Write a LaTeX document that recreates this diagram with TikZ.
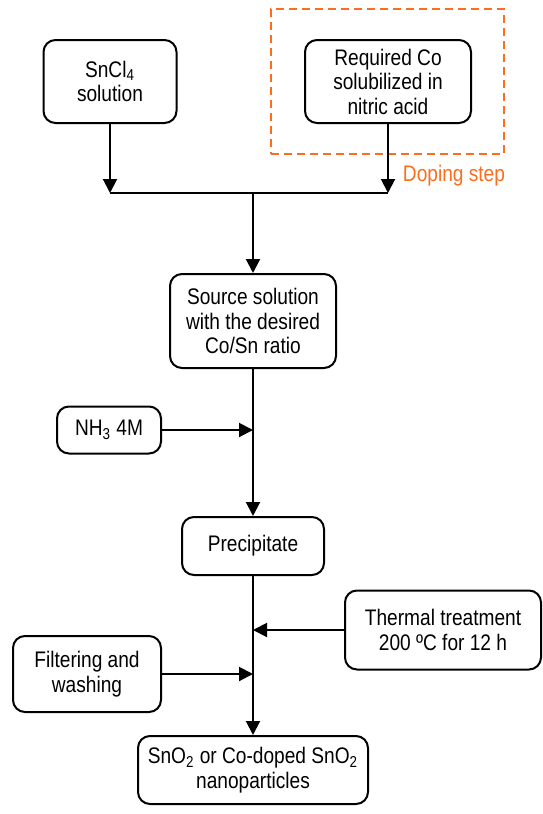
\documentclass[tikz,border=0pt]{standalone}
\usepackage{fontspec}
\setmainfont{Liberation Sans}[FakeStretch=0.85]
\usepackage{tikz}
\usetikzlibrary{arrows.meta}
\definecolor{dopeorange}{RGB}{250,110,30}

\begin{document}
\begin{tikzpicture}[
		x=0.5pt, y=-0.5pt,
		every node/.style={rectangle, draw, rounded corners=6pt, line width=1pt,
			align=center, inner sep=0pt,
			font=\fontsize{11.25}{12.25}\selectfont},
		arr/.style={line width=1pt, -{Triangle[width=7pt, length=7pt]}},
		flow/.style={line width=1pt}
	]
  \useasboundingbox (0,0) rectangle (542,814);
  % dashed frame round the doping step
  \node (dope_box) [draw=dopeorange, dash pattern=on 4pt off 2.5pt, rounded corners=0pt,
    minimum width=116.5pt, minimum height=72.5pt] at (387.5, 81.5) {};
  \node (dope_label) [draw=none, text=dopeorange] at (454, 176) {Doping step};
  \node (sncl) [minimum width=66.5pt, minimum height=41.5pt] at (110, 81.5) {SnCl\textsubscript{4}\\solution};
  \node (co_sol) [minimum width=83pt, minimum height=41.5pt] at (388, 81.5) {Required Co\\solubilized in\\nitric acid};
  \node (source) [minimum width=83pt, minimum height=47pt] at (253, 321) {Source solution\\with the desired\\Co/Sn ratio};
  \node (nh3) [minimum width=52pt, minimum height=23.5pt] at (109, 430) {NH\textsubscript{3} 4M};
  \node (precip) [minimum width=71pt, minimum height=29pt] at (253, 546) {Precipitate};
  \node (thermal) [minimum width=98pt, minimum height=39.5pt] at (443, 630) {Thermal treatment\\200 ºC for 12 h};
  \node (filter) [minimum width=74pt, minimum height=38pt] at (87, 674) {Filtering and\\washing};
  \node (product) [minimum width=115pt, minimum height=34pt] at (253, 770) {SnO\textsubscript{2} or Co-doped SnO\textsubscript{2}\\nanoparticles};
  \coordinate (j_l) at (110, 193);
  \coordinate (j_m) at (253, 193);
  \coordinate (j_r) at (388, 193);
  \coordinate (in_nh3) at (253, 430);
  \coordinate (in_thermal) at (253, 630);
  \coordinate (in_filter) at (253, 674);
  \draw (sncl) edge [arr] (j_l);
  \draw (co_sol) edge [arr] (j_r);
  \draw [flow] (j_l) -- (j_r);
  \draw (j_m) edge [arr] (source);
  \draw (nh3) edge [arr] (in_nh3);
  \draw (source) edge [arr] (precip);
  \draw (thermal) edge [arr] (in_thermal);
  \draw (filter) edge [arr] (in_filter);
  \draw (precip) edge [arr] (product);
\end{tikzpicture}
\end{document}
